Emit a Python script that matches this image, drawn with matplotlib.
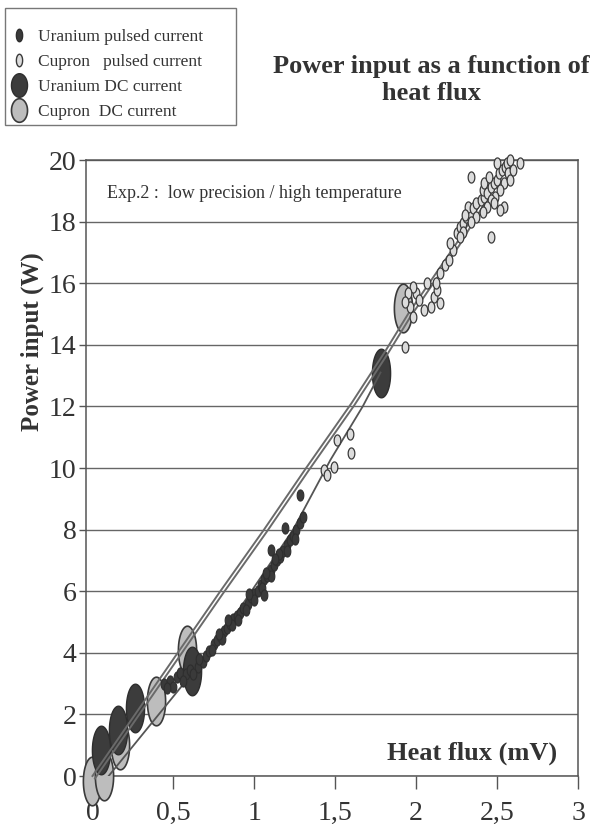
import matplotlib
matplotlib.use('Agg')
import matplotlib.pyplot as plt
import matplotlib.transforms as mtransforms
from matplotlib.lines import Line2D
from matplotlib.patches import Rectangle
import numpy as np

plt.rcParams['font.family'] = ['Liberation Serif', 'DejaVu Serif']

# Données (flux de chaleur en mV, puissance en W)
u_dc_x = [0.05, 0.16, 0.26, 0.615, 1.78]
u_dc_y = [0.84, 1.5, 2.2, 3.4, 13.1]

c_dc_x = [0.0, 0.07, 0.17, 0.39, 0.585, 1.92]
c_dc_y = [-0.15, 0.0, 1.0, 2.45, 4.1, 15.2]

u_pulse_x = [0.44, 0.48, 0.52, 0.54, 0.58, 0.60, 0.65, 0.68, 0.70, 0.72, 0.75, 0.77,
             0.79, 0.81, 0.83, 0.85, 0.87, 0.89, 0.91, 0.93, 0.96, 0.98, 1.00, 1.02,
             1.04, 1.06, 1.08, 1.10, 1.12, 1.14, 1.16, 1.18, 1.20, 1.22, 1.24, 1.26,
             1.28, 1.30, 0.50, 0.62, 0.74, 0.80, 0.86, 0.90, 0.95, 1.00, 1.05, 1.10,
             1.15, 1.20, 1.25, 0.84, 0.78, 0.97, 1.07, 1.13, 0.66, 0.56, 0.46,
             1.06, 1.10, 1.19, 1.28]
u_pulse_y = [3.0, 3.1, 3.2, 3.33, 3.3, 3.45, 3.55, 3.7, 3.9, 4.05, 4.3, 4.4,
             4.55, 4.7, 4.8, 4.95, 5.1, 5.2, 5.3, 5.45, 5.6, 5.8, 5.9, 6.0,
             6.2, 6.4, 6.5, 6.7, 6.85, 7.0, 7.1, 7.3, 7.5, 7.65, 7.8, 8.0,
             8.2, 8.4, 2.9, 3.3, 4.1, 4.45, 4.9, 5.05, 5.4, 5.7, 6.1, 6.5,
             7.2, 7.3, 7.7, 5.05, 4.6, 5.9, 6.6, 7.05, 3.8, 3.1, 2.85,
             5.88, 7.34, 8.05, 9.12]

c_pulse_x = [1.43, 1.45, 1.49, 1.51, 1.59, 1.60, 1.93,
             2.00, 2.07, 2.11, 1.96, 2.05, 2.13, 2.15, 1.98, 2.09, 2.02, 1.95, 1.93, 2.12, 1.98,
             2.15, 2.18, 2.20, 2.23, 2.21,
             2.46, 2.34, 2.64,
             2.25, 2.27, 2.29, 2.31, 2.33, 2.32, 2.35, 2.37, 2.40, 2.42, 2.41, 2.44, 2.46,
             2.48, 2.50, 2.51, 2.53, 2.55, 2.56, 2.58, 2.57, 2.54, 2.52, 2.49, 2.46, 2.44,
             2.41, 2.37, 2.34, 2.29, 2.54, 2.58, 2.60, 2.48, 2.42, 2.45, 2.50, 2.52, 2.27, 2.30]
c_pulse_y = [9.94, 9.77, 10.03, 10.9, 11.1, 10.5, 13.94,
             15.67, 16.0, 15.56, 15.24, 15.13, 15.78, 15.35, 15.89, 15.24, 15.45, 15.67, 15.4, 16.0, 14.91,
             16.32, 16.59, 16.75, 17.08, 17.3,
             17.51, 19.46, 19.89,
             17.62, 17.83, 17.94, 18.16, 18.27, 18.48, 18.43, 18.59, 18.70, 18.81, 19.03, 18.92, 19.13,
             19.24, 19.35, 19.57, 19.68, 19.78, 19.89, 20.0, 19.57, 19.24, 19.03, 18.81, 18.70, 18.48,
             18.32, 18.16, 18.0, 17.67, 18.48, 19.35, 19.68, 18.59, 19.24, 19.46, 19.89, 18.38, 17.51, 18.21]

# lignes de tendance
upper_x = [0.0, 0.79, 1.06, 1.32, 1.60, 1.81, 1.95, 2.25, 2.56]
upper_y = [0.0, 6.0, 8.0, 10.0, 12.1, 13.8, 15.0, 17.3, 20.0]
lower_x = [0.10, 0.75, 1.24, 1.47, 1.67, 1.78]
lower_y = [0.0, 4.2, 8.0, 10.26, 12.0, 13.1]

xticks = [0, 0.5, 1, 1.5, 2, 2.5, 3]
xtick_labels = ['0', '0,5', '1', '1,5', '2', '2,5', '3']
yticks = list(range(0, 21, 2))

txt = '#333333'

def ellipse(ratio):
    t = np.linspace(0, 2 * np.pi, 60)
    return np.column_stack([ratio * np.cos(t), np.sin(t)])

fig = plt.figure(figsize=(6, 8.38), dpi=100)
ax = fig.add_axes([86 / 600, 1 - 776 / 838, 492 / 600, 616 / 838])

ax.set_xlim(-0.04, 3)
ax.set_ylim(0, 20)

# grosses ellipses : courant continu
ax.plot(c_dc_x, c_dc_y, ls='none', marker=ellipse(0.375), ms=35, mfc='#bdbdbd',
        mec='#3a3a3a', mew=1.2, clip_on=False, zorder=3)
ax.plot(u_dc_x, u_dc_y, ls='none', marker=ellipse(0.375), ms=35, mfc='#3c3c3c',
        mec='#2e2e2e', mew=1.0, clip_on=False, zorder=3)

# lignes (double ligne en haut)
off = mtransforms.offset_copy(ax.transData, fig=fig, x=2.5, y=-2.5, units='dots')
ax.plot(upper_x, upper_y, color='#6a6a6a', lw=1.4, zorder=4, clip_on=False)
ax.plot(upper_x, upper_y, color='#6a6a6a', lw=1.4, zorder=4, transform=off, clip_on=False)
ax.plot(lower_x, lower_y, color='#555555', lw=1.3, zorder=4)

# petits points : courant pulsé
ax.plot(u_pulse_x, u_pulse_y, ls='none', marker=ellipse(0.6), ms=8, mfc='#3a3a3a',
        mec='#2e2e2e', mew=0.8, zorder=5, clip_on=False)
ax.plot(c_pulse_x, c_pulse_y, ls='none', marker=ellipse(0.6), ms=8, mfc='#dcdcdc',
        mec='#3a3a3a', mew=0.9, zorder=5, clip_on=False)

ax.set_yticks(yticks)
ax.set_xticks(xticks)
ax.set_xticklabels(xtick_labels)
ax.yaxis.grid(True, color='#666666', lw=1)
ax.set_axisbelow(True)
for s in ax.spines.values():
    s.set_color('#555555')
    s.set_linewidth(1.1)
ax.tick_params(axis='y', direction='out', length=5, width=1, color='#555555',
               labelsize=20, labelcolor=txt, pad=2)
ax.tick_params(axis='x', direction='out', length=9, width=1, color='#555555',
               labelsize=20, labelcolor=txt, pad=9)

ax.set_ylabel('Power input (W)', fontsize=18, fontweight='bold', color=txt, va='center')
ax.yaxis.set_label_coords((32 - 86) / 492, (776 - 342) / 616)

ax.text(0.957, 0.037, 'Heat flux (mV)', transform=ax.transAxes, ha='right', va='center',
        fontsize=19, fontweight='bold', color=txt)
ax.text(0.043, 0.946, 'Exp.2 :  low precision / high temperature', transform=ax.transAxes,
        ha='left', va='center', fontsize=13, color=txt)

fig.text(431 / 600, 1 - 80 / 838, 'Power input as a function of\nheat flux', ha='center',
         va='center', fontsize=19, fontweight='bold', color=txt, linespacing=1.25)

# légende
fig.patches.append(Rectangle((5 / 600, 1 - 125 / 838), 231 / 600, 117 / 838,
                             transform=fig.transFigure, fill=False, edgecolor='#777777', lw=1))
handles = [
    Line2D([], [], ls='none', marker=ellipse(0.5), ms=9, mfc='#3a3a3a', mec='#2e2e2e'),
    Line2D([], [], ls='none', marker=ellipse(0.5), ms=9, mfc='#dcdcdc', mec='#3a3a3a'),
    Line2D([], [], ls='none', marker=ellipse(0.68), ms=17, mfc='#3c3c3c', mec='#2e2e2e'),
    Line2D([], [], ls='none', marker=ellipse(0.68), ms=17, mfc='#bdbdbd', mec='#3a3a3a', mew=1.2),
]
labels = ['Uranium pulsed current', 'Cupron   pulsed current', 'Uranium DC current',
          'Cupron  DC current']
fig.legend(handles, labels, loc='upper left', bbox_to_anchor=(10 / 600, 1 - 29 / 838),
           frameon=False, fontsize=12.5, labelspacing=0.5, handlelength=1.0,
           handletextpad=0.6, borderpad=0, borderaxespad=0, labelcolor=txt)

fig.savefig('out.png', dpi=100)
